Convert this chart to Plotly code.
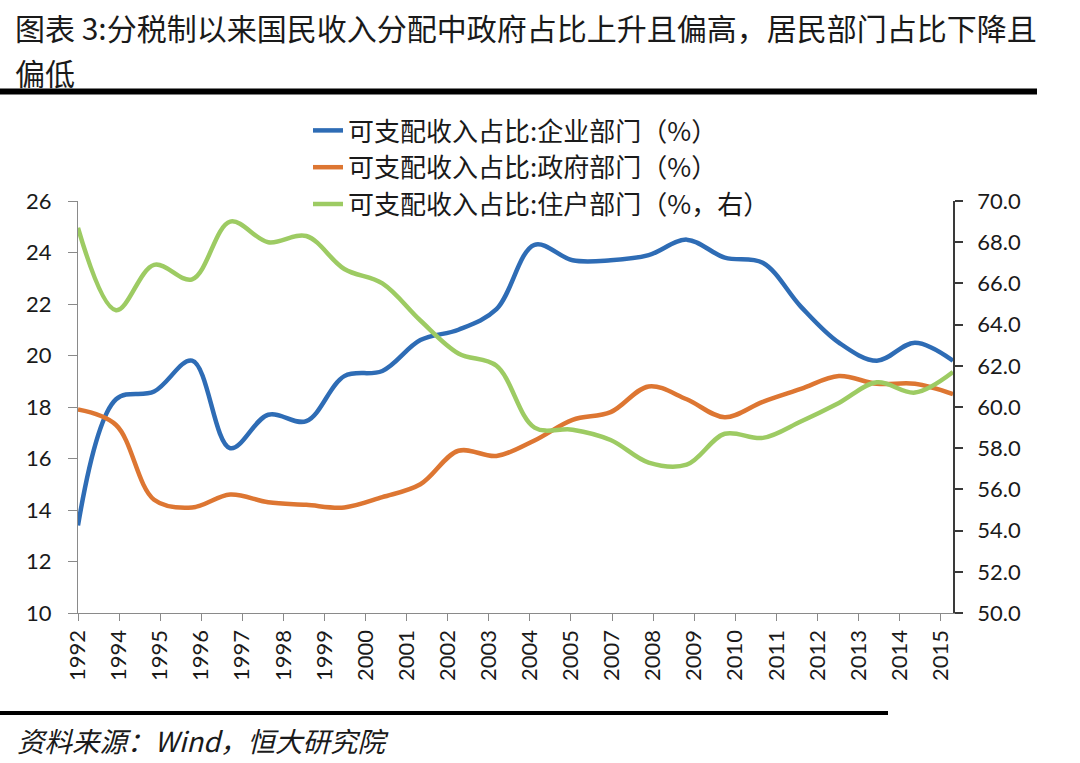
import plotly.graph_objects as go

# ---- data ----
years = list(range(1992, 2016))
tick_labels = ["1992", "1994", "1995", "1996", "1997", "1998", "1999", "2000", "2001", "2002",
               "2003", "2004", "2005", "2007", "2008", "2009", "2010", "2011", "2012", "2013",
               "2014", "2015"]
enterprise = [13.4, 18.3, 18.6, 19.8, 16.4, 17.7, 17.45, 19.2, 19.4, 20.6, 21.0, 21.8,
              24.3, 23.7, 23.7, 23.9, 24.5, 23.8, 23.6, 21.9, 20.5, 19.8, 20.5, 19.8]
government = [17.9, 17.3, 14.4, 14.1, 14.6, 14.3, 14.2, 14.1, 14.5, 15.0, 16.3, 16.1,
              16.7, 17.5, 17.8, 18.8, 18.3, 17.6, 18.2, 18.7, 19.2, 18.9, 18.9, 18.5]
household = [68.7, 64.7, 66.9, 66.2, 69.0, 68.0, 68.3, 66.7, 66.0, 64.2, 62.6, 62.0,
             59.0, 58.9, 58.4, 57.3, 57.2, 58.7, 58.5, 59.3, 60.2, 61.2, 60.7, 61.7]

names = ["可支配收入占比:企业部门（%）", "可支配收入占比:政府部门（%）", "可支配收入占比:住户部门（%，右）"]
colors = ["#2E6CB5", "#DD7632", "#9DCB63"]

W, H = 1080, 763
L, R, T, B = 78, 127, 201, 150
PW, PH = W - L - R, H - T - B


def px_x(p):
    return (p - L) / PW


def px_y(p):
    return 1 - (p - T) / PH


fig = go.Figure()
fig.add_trace(go.Scatter(x=years, y=enterprise, name=names[0], mode="lines",
                         line=dict(color=colors[0], width=4.5, shape="spline", smoothing=1.0)))
fig.add_trace(go.Scatter(x=years, y=government, name=names[1], mode="lines",
                         line=dict(color=colors[1], width=4.5, shape="spline", smoothing=1.0)))
fig.add_trace(go.Scatter(x=years, y=household, name=names[2], mode="lines", yaxis="y2",
                         line=dict(color=colors[2], width=4.5, shape="spline", smoothing=1.0)))
# category axis carrying the printed year labels
fig.add_trace(go.Scatter(x=tick_labels, y=[None] * len(tick_labels), xaxis="x2", mode="lines",
                         showlegend=False, hoverinfo="skip"))

tick_font = dict(family="Lato", size=22, color="#1a1a1a")
cjk = "Noto Sans CJK SC"

fig.update_layout(
    width=W, height=H,
    margin=dict(l=L, r=R, t=T, b=B),
    paper_bgcolor="white", plot_bgcolor="white",
    showlegend=True,
    legend=dict(x=px_x(308), y=px_y(107), xanchor="left", yanchor="top",
                font=dict(family=cjk, size=26, color="#1a1a1a"),
                bgcolor="rgba(0,0,0,0)", tracegroupgap=0),
    xaxis=dict(visible=False, range=[1992, 2015], showgrid=False, zeroline=False),
    xaxis2=dict(overlaying="x", anchor="y", side="bottom", type="category",
                range=[0, 21.3], showgrid=False, zeroline=False,
                showline=True, linecolor="#8a8a8a", linewidth=1.2,
                ticks="outside", ticklen=7, tickcolor="#8a8a8a", tickwidth=1.2,
                tickangle=-90, tickfont=tick_font),
    yaxis=dict(range=[10, 26], dtick=2, showgrid=False, zeroline=False,
               showline=True, linecolor="#8a8a8a", linewidth=1.2,
               ticks="outside", ticklen=9, tickcolor="#8a8a8a", tickwidth=1.2,
               tickfont=tick_font, ticklabelstandoff=12),
    yaxis2=dict(range=[50, 70], dtick=2, tickformat=".1f", overlaying="y", side="right",
                showgrid=False, zeroline=False,
                showline=True, linecolor="#3a3a3a", linewidth=1.8,
                ticks="outside", ticklen=8, tickcolor="#3a3a3a", tickwidth=1.5,
                tickfont=tick_font, ticklabelstandoff=10),
)

title_font = dict(family=cjk, size=30, color="#1a1a1a")
fig.add_annotation(text="图表 3:分税制以来国民收入分配中政府占比上升且偏高，居民部门占比下降且",
                   xref="paper", yref="paper", x=px_x(13), y=px_y(27),
                   xanchor="left", yanchor="middle", showarrow=False, font=title_font)
fig.add_annotation(text="偏低", xref="paper", yref="paper", x=px_x(13), y=px_y(72),
                   xanchor="left", yanchor="middle", showarrow=False, font=title_font)
fig.add_annotation(text="<i>资料来源：Wind，恒大研究院</i>", xref="paper", yref="paper",
                   x=px_x(15), y=px_y(740), xanchor="left", yanchor="middle", showarrow=False,
                   font=dict(family=cjk, size=27.5, color="#1a1a1a"))

fig.add_shape(type="line", xref="paper", yref="paper", x0=px_x(0), x1=px_x(1037),
              y0=px_y(91.5), y1=px_y(91.5), line=dict(color="black", width=6))
fig.add_shape(type="line", xref="paper", yref="paper", x0=px_x(0), x1=px_x(888),
              y0=px_y(713), y1=px_y(713), line=dict(color="black", width=4))

fig.write_html("out.html", config={"displayModeBar": False},
               post_script="document.body.style.margin='0';document.body.style.overflow='hidden';")
